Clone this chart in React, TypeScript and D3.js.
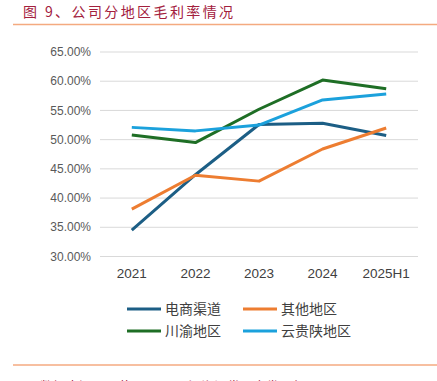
import React from "react";
import * as d3 from "d3";

const categories = ["2021", "2022", "2023", "2024", "2025H1"];
const seriesNames = ["电商渠道", "其他地区", "川渝地区", "云贵陕地区"];
const ecommerce = [34.5, 44.0, 52.6, 52.8, 50.7];
const other = [38.1, 43.9, 42.9, 48.4, 52.0];
const chuanyu = [50.8, 49.5, 55.2, 60.2, 58.7];
const yunguishan = [52.1, 51.5, 52.5, 56.8, 57.8];
const yTicks = [30, 35, 40, 45, 50, 55, 60, 65];
const colors = ["#1C5E85", "#ED7D31", "#1E6E25", "#1BA1DC"];

export default function App() {
  const W = 437, H = 381;
  const x = d3.scaleBand<string>().domain(categories).range([100, 418]);
  const y = d3.scaleLinear().domain([30, 65]).range([256.5, 52]);
  const allSeries = [ecommerce, other, chuanyu, yunguishan];
  const line = d3
    .line<number>()
    .x((_, i) => (x(categories[i]) as number) + x.bandwidth() / 2)
    .y((d) => y(d));
  const legendPos = [
    [127, 309],
    [243, 309],
    [127, 331],
    [243, 331],
  ];
  const font = "'Liberation Sans', Arial, 'Noto Sans CJK SC', sans-serif";
  return (
    <svg
      width={W}
      height={H}
      style={{ position: "absolute", left: 0, top: 0, background: "#fff" }}
    >
      <text
        x={23}
        y={17}
        fontSize={14}
        fill="#A3203D"
        fontFamily="'Noto Sans CJK SC', sans-serif"
        letterSpacing={2.4}
      >
        图 9、公司分地区毛利率情况
      </text>
      <line x1={13} x2={437} y1={24.5} y2={24.5} stroke="#F4AA80" strokeWidth={1.5} />
      {yTicks.map((t) => (
        <g key={t}>
          <line x1={100} x2={418} y1={y(t)} y2={y(t)} stroke="#D9D9D9" strokeWidth={1} />
          <text
            x={91}
            y={y(t)}
            dy="0.35em"
            textAnchor="end"
            fontSize={12}
            fill="#595959"
            fontFamily={font}
          >
            {t.toFixed(2)}%
          </text>
        </g>
      ))}
      {categories.map((c) => (
        <text
          key={c}
          x={(x(c) as number) + x.bandwidth() / 2}
          y={273}
          dy="0.35em"
          textAnchor="middle"
          fontSize={13.5}
          fill="#404040"
          fontFamily={font}
        >
          {c}
        </text>
      ))}
      {allSeries.map((s, i) => (
        <path
          key={i}
          d={line(s) || ""}
          fill="none"
          stroke={colors[i]}
          strokeWidth={3}
          strokeLinejoin="round"
        />
      ))}
      {seriesNames.map((n, i) => (
        <g key={n}>
          <line
            x1={legendPos[i][0]}
            x2={legendPos[i][0] + 34}
            y1={legendPos[i][1]}
            y2={legendPos[i][1]}
            stroke={colors[i]}
            strokeWidth={3}
          />
          <text
            x={legendPos[i][0] + 38}
            y={legendPos[i][1]}
            dy="0.36em"
            fontSize={14}
            fill="#404040"
            fontFamily="'Noto Sans CJK SC', sans-serif"
          >
            {n}
          </text>
        </g>
      ))}
      <line x1={13} x2={437} y1={365} y2={365} stroke="#F4AA80" strokeWidth={1.5} />
      <text
        x={40}
        y={391}
        fontSize={13}
        fill="#A3203D"
        fontFamily="'Noto Sans CJK SC', sans-serif"
      >
        数据来源：同花顺iFinD，江海证券研究发展部
      </text>
    </svg>
  );
}
